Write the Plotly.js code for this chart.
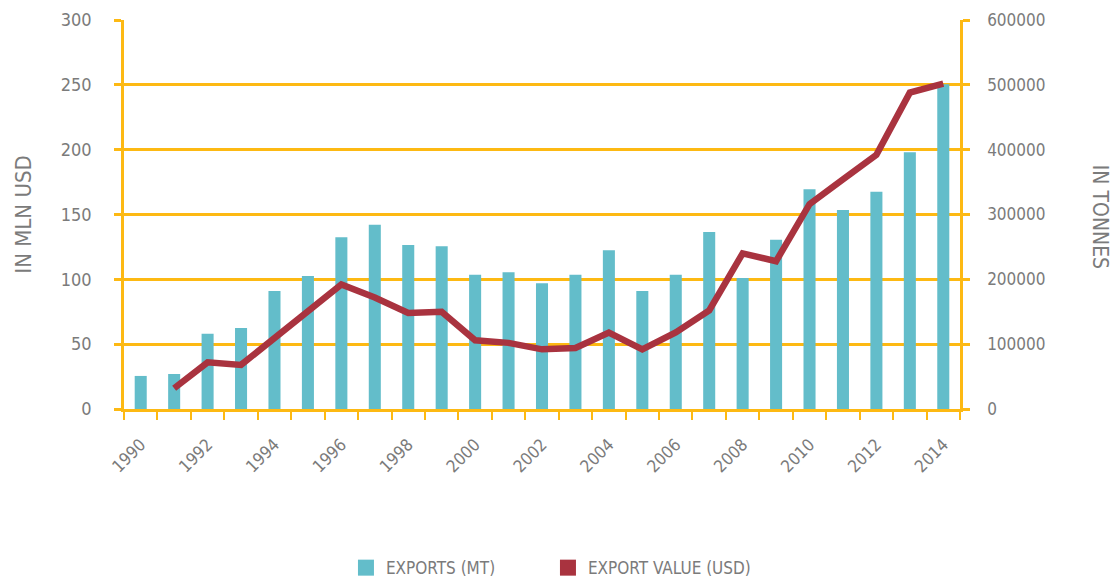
<!DOCTYPE html>
<html>
<head>
<meta charset="utf-8">
<script src="https://cdn.plot.ly/plotly-3.0.1.min.js"></script>
<style>
html,body{margin:0;padding:0;background:#fff;}
#chart{width:1117px;height:583px;}
</style>
</head>
<body>
<div id="chart"></div>
<script>
// Years (categories)
const years = [1990,1991,1992,1993,1994,1995,1996,1997,1998,1999,2000,2001,2002,2003,2004,2005,2006,2007,2008,2009,2010,2011,2012,2013,2014];
// Exports in tonnes (bars, right axis)
const exportsMT = [51000,54000,116000,125000,182000,205000,265000,284000,253000,251000,207000,211000,194000,207000,245000,182000,207000,273000,202000,261000,339000,307000,335000,396000,501000];
// Export value in mln USD (line, left axis)
const exportValueUSD = [null,16,36,34,55,76,96,86,74,75,53,51,46,47,59,46,59,76,120,114,158,177,196,244,251];
// Series names and axis titles
const seriesNames = ["EXPORTS (MT)", "EXPORT VALUE (USD)"];
const leftTitle = "IN MLN USD";
const rightTitle = "IN TONNES";

const GOLD = "#fdb913";
const TEAL = "#63bdca";
const RED = "#a9333f";
const GREY = "#7b7b7b";
const FONT = "'DejaVu Sans Condensed', 'Liberation Sans Narrow', sans-serif";

const noValues = years.map(() => null);

const traces = [
  {
    type: "bar",
    name: seriesNames[0],
    x: years,
    y: exportsMT,
    yaxis: "y",
    width: 0.36,
    marker: {color: TEAL},
    showlegend: false,
    hoverinfo: "x+y"
  },
  {
    type: "scatter",
    mode: "lines",
    name: seriesNames[1],
    x: years,
    y: exportValueUSD,
    yaxis: "y2",
    showlegend: false,
    line: {color: RED, width: 6.5},
    connectgaps: false
  },
  // legend entries drawn as squares
  {
    type: "scatter",
    mode: "markers",
    name: seriesNames[0],
    x: years,
    y: noValues,
    yaxis: "y",
    marker: {symbol: "square", size: 18, color: TEAL},
    hoverinfo: "skip"
  },
  {
    type: "scatter",
    mode: "markers",
    name: seriesNames[1],
    x: years,
    y: noValues,
    yaxis: "y",
    marker: {symbol: "square", size: 18, color: RED},
    hoverinfo: "skip"
  }
];

const layout = {
  width: 1117,
  height: 583,
  margin: {l: 124, r: 157, t: 20, b: 174, autoexpand: false},
  paper_bgcolor: "#fff",
  plot_bgcolor: "#fff",
  font: {family: FONT, color: GREY, size: 18},
  barmode: "overlay",
  showlegend: true,
  legend: {
    orientation: "h",
    itemsizing: "trace",
    entrywidth: 157,
    entrywidthmode: "pixels",
    x: 0.2655, xanchor: "left",
    y: -0.409, yanchor: "middle",
    font: {family: FONT, size: 17, color: GREY},
    itemclick: false, itemdoubleclick: false,
    tracegroupgap: 0
  },
  xaxis: {
    type: "linear",
    range: [1989.5, 2014.5],
    tickmode: "linear",
    tick0: 1990,
    dtick: 2,
    ticks: "",
    tickangle: -45,
    tickfont: {family: FONT, size: 17, color: GREY},
    showgrid: false,
    zeroline: false,
    showline: true,
    linecolor: GOLD,
    linewidth: 3,
    ticklabelstandoff: 16,
    minor: {
      tick0: 1989.5,
      dtick: 1,
      ticks: "outside",
      ticklen: 8,
      tickwidth: 2,
      tickcolor: GOLD,
      showgrid: false
    }
  },
  yaxis: {
    side: "right",
    range: [0, 600000],
    tickmode: "linear",
    tick0: 0,
    dtick: 100000,
    tickformat: "d",
    ticks: "outside",
    ticklen: 7,
    tickwidth: 2.5,
    tickcolor: GOLD,
    showline: true,
    linecolor: GOLD,
    linewidth: 2.5,
    showgrid: true,
    gridcolor: GOLD,
    gridwidth: 2.5,
    zeroline: false,
    ticklabelstandoff: 14,
    tickfont: {family: FONT, size: 17, color: GREY}
  },
  yaxis2: {
    overlaying: "y",
    side: "left",
    range: [0, 300],
    tickmode: "linear",
    tick0: 0,
    dtick: 50,
    ticks: "outside",
    ticklen: 7,
    tickwidth: 2.5,
    tickcolor: GOLD,
    showline: true,
    linecolor: GOLD,
    linewidth: 2.5,
    showgrid: false,
    zeroline: false,
    ticklabelstandoff: 19,
    tickfont: {family: FONT, size: 18, color: GREY},
    title: {text: leftTitle, standoff: 24, font: {family: FONT, size: 22, color: GREY}}
  },
  annotations: [
    {
      text: rightTitle,
      xref: "paper", yref: "paper",
      x: 1.1675, y: 0.494,
      xanchor: "center", yanchor: "middle",
      textangle: 90,
      showarrow: false,
      font: {family: FONT, size: 21, color: GREY}
    }
  ]
};

Plotly.newPlot("chart", traces, layout, {displayModeBar: false});
</script>
</body>
</html>
